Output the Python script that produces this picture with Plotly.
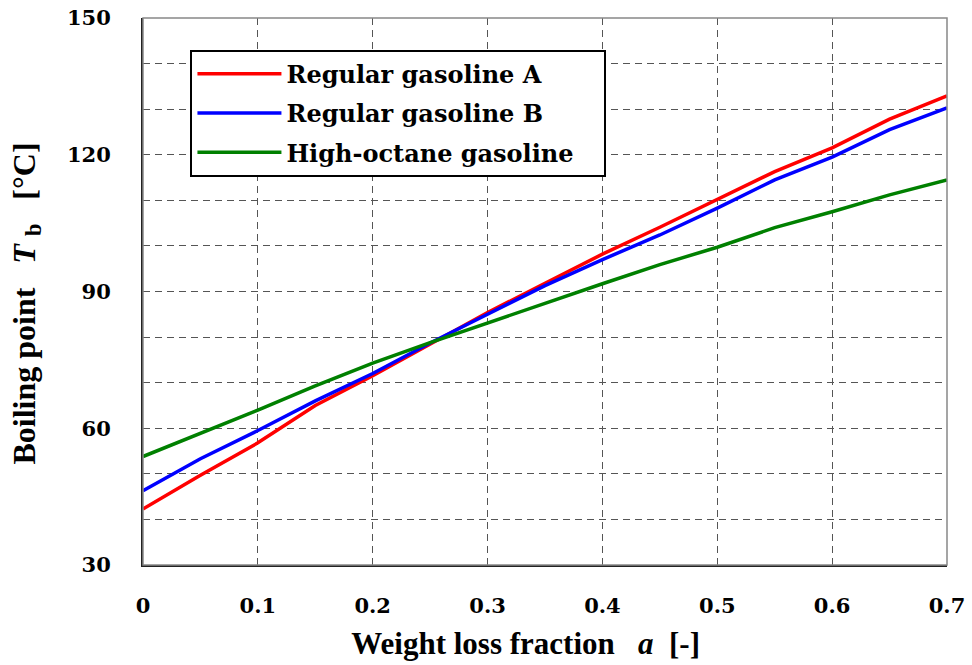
import plotly.graph_objects as go

# Weight loss fraction a [-]
a_values = [0.0, 0.05, 0.10, 0.15, 0.20, 0.25, 0.30, 0.35, 0.40, 0.45, 0.50, 0.55, 0.60, 0.65, 0.70]

# Boiling point Tb [°C]
regular_a = [42.3, 49.7, 56.8, 65.0, 71.5, 78.5, 85.4, 91.8, 98.2, 104.1, 110.3, 116.3, 121.5, 127.8, 132.9]
regular_b = [46.3, 53.3, 59.5, 66.0, 72.0, 78.7, 85.0, 91.3, 97.0, 102.4, 108.3, 114.5, 119.5, 125.5, 130.3]
high_octane = [53.8, 58.8, 64.0, 69.3, 74.3, 78.8, 83.0, 87.4, 91.7, 95.9, 99.7, 104.0, 107.5, 111.2, 114.5]

series_names = ["Regular gasoline A", "Regular gasoline B", "High-octane gasoline"]
series_colors = ["#ff0000", "#0000ff", "#008000"]

x_ticks = [0, 0.1, 0.2, 0.3, 0.4, 0.5, 0.6, 0.7]
x_tick_labels = ["0", "0.1", "0.2", "0.3", "0.4", "0.5", "0.6", "0.7"]
y_ticks = [30, 60, 90, 120, 150]

fig = go.Figure()
for i, (name, ys, col) in enumerate(zip(series_names, [regular_a, regular_b, high_octane], series_colors)):
    fig.add_trace(go.Scatter(x=a_values, y=ys, mode="lines",
                             name=name + "\u00a0\u00a0\u00a0",
                             legendgroup=f"g{i}",
                             line=dict(color=col, width=3.5)))

tick_font = dict(family="DejaVu Serif", size=21, color="black", weight="bold")
title_font = dict(family="Liberation Serif", size=31, color="black", weight="bold")
ytitle_font = dict(family="Liberation Serif", size=32, color="black", weight="bold")
grid = dict(showgrid=True, gridcolor="#555555", gridwidth=1, griddash="7px,5px")

fig.update_layout(
    width=972, height=665,
    margin=dict(l=143, r=25, t=18, b=100, autoexpand=False),
    paper_bgcolor="white", plot_bgcolor="white",
    showlegend=True,
    legend=dict(x=0.059, y=0.942, xanchor="left", yanchor="top",
                bgcolor="white", bordercolor="black", borderwidth=2,
                font=dict(family="DejaVu Serif", size=24, color="black", weight="bold"),
                tracegroupgap=5, itemwidth=84),
    xaxis=dict(range=[0, 0.7], tickvals=x_ticks, ticktext=x_tick_labels,
               tickfont=tick_font, ticks="", ticklabelstandoff=21, zeroline=False,
               automargin=False, ticklabeloverflow="allow",
               showline=True, linecolor="#222222", linewidth=2,
               title=dict(text="Weight loss fraction&nbsp;&nbsp;&nbsp;<i>a</i>&nbsp;&nbsp;[-]"
                               "&nbsp;&nbsp;&nbsp;&nbsp;&nbsp;",
                          standoff=15, font=title_font),
               **grid),
    yaxis=dict(range=[30, 150], tickvals=y_ticks, tickfont=tick_font, ticks="",
               ticklabelstandoff=26, automargin=False, ticklabeloverflow="allow",
               zeroline=False, showline=True, linecolor="#222222", linewidth=2,
               minor=dict(dtick=10, showgrid=True, gridcolor="#555555", gridwidth=1, griddash="7px,5px"),
               title=dict(text="Boiling point&nbsp;&nbsp;&nbsp;<i>T</i>&nbsp;<sub>b</sub>&nbsp;&nbsp;&nbsp;[°C]"
                               "&nbsp;&nbsp;&nbsp;",
                          standoff=22, font=ytitle_font),
               **grid),
    shapes=[dict(type="rect", xref="paper", yref="paper", x0=0, y0=0, x1=1, y1=1,
                 line=dict(color="#888888", width=1.5), layer="above")],
)

fig.write_html("out.html", config={"displayModeBar": False},
               post_script="document.body.style.margin='0';")
